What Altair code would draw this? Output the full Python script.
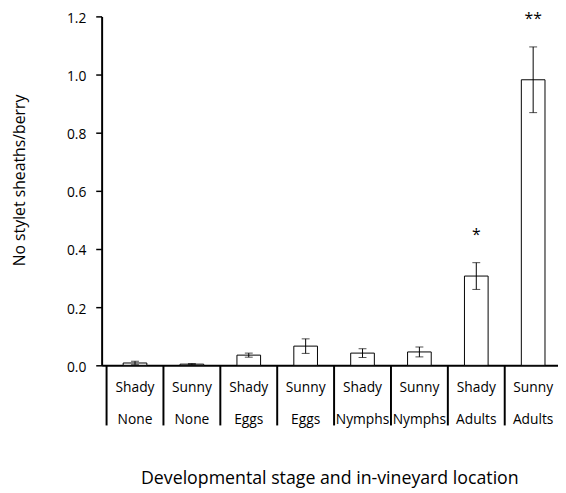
import altair as alt
import pandas as pd

# ---- data ----
locations = ["Shady", "Sunny", "Shady", "Sunny", "Shady", "Sunny", "Shady", "Sunny"]
stages = ["None", "None", "Eggs", "Eggs", "Nymphs", "Nymphs", "Adults", "Adults"]
means = [0.008, 0.004, 0.035, 0.066, 0.042, 0.046, 0.307, 0.982]
errors = [0.006, 0.002, 0.007, 0.025, 0.015, 0.017, 0.046, 0.113]
signif = ["", "", "", "", "", "", "*", "**"]
y_ticks = [0.0, 0.2, 0.4, 0.6, 0.8, 1.0, 1.2]

df = pd.DataFrame({
    "location": locations,
    "stage": stages,
    "mean": means,
    "err": errors,
    "sig": signif,
})
df["idx"] = range(len(df))
df["pos"] = df["idx"] + 0.5
df["lo"] = df["mean"] - df["err"]
df["hi"] = df["mean"] + df["err"]

sep = pd.DataFrame({"b": list(range(len(df)))})

FONT = "Open Sans"
xs = alt.Scale(domain=[0, 7.85], nice=False, zero=False)
ys = alt.Scale(domain=[0, 1.2], nice=False)

base = alt.Chart(df)

bars = base.mark_bar(size=24, fill="white", stroke="black", strokeWidth=1).encode(
    x=alt.X("pos:Q", scale=xs,
            title="Developmental stage and in-vineyard location"),
    y=alt.Y("mean:Q", scale=ys, title="No stylet sheaths/berry",
            axis=alt.Axis(values=y_ticks, format=".1f")),
)

err_rule = base.mark_rule(color="black", strokeWidth=1).encode(
    x=alt.X("pos:Q", scale=xs), y=alt.Y("lo:Q", scale=ys), y2="hi:Q"
)
cap_hi = base.mark_tick(orient="horizontal", size=8, thickness=1, color="black").encode(
    x=alt.X("pos:Q", scale=xs), y=alt.Y("hi:Q", scale=ys)
)
cap_lo = base.mark_tick(orient="horizontal", size=8, thickness=1, color="black").encode(
    x=alt.X("pos:Q", scale=xs), y=alt.Y("lo:Q", scale=ys)
)
stars = base.mark_text(dy=-23, baseline="alphabetic", fontSize=16, font=FONT,
                       color="black").encode(
    x=alt.X("pos:Q", scale=xs), y=alt.Y("hi:Q", scale=ys), text="sig:N"
)
row1 = base.mark_text(baseline="alphabetic", fontSize=14, font=FONT, color="black").encode(
    x=alt.X("pos:Q", scale=xs), y=alt.value(381), text="location:N"
)
row2 = base.mark_text(baseline="alphabetic", fontSize=14, font=FONT, color="black").encode(
    x=alt.X("pos:Q", scale=xs), y=alt.value(414), text="stage:N"
)
seps = alt.Chart(sep).mark_rule(color="black", strokeWidth=2).encode(
    x=alt.X("b:Q", scale=xs), y=alt.value(354), y2=alt.value(415)
)

chart = alt.layer(bars, err_rule, cap_hi, cap_lo, stars, seps, row1, row2).properties(
    width=463,
    height=354,
    autosize=alt.AutoSizeParams(type="none"),
    padding={"left": 95, "top": 5, "right": 0, "bottom": 124},
).configure_view(
    stroke=None
).configure_axis(
    grid=False,
    domainColor="black",
    domainWidth=2,
    labelFont=FONT,
    titleFont=FONT,
    labelColor="black",
    titleColor="black",
    titleFontWeight="normal",
).configure_axisX(
    labels=False,
    ticks=False,
    titleFontSize=18,
    titleX=231,
    titleY=120,
    titleBaseline="alphabetic",
).configure_axisY(
    tickColor="black",
    tickSize=6,
    tickWidth=1.5,
    labelFontSize=14,
    labelPadding=10,
    labelOffset=2,
    titleFontSize=16,
    titleX=-83,
    titleY=166,
    titleAlign="center",
    titleBaseline="middle",
    titleAngle=270,
)

chart.save("out.html", embed_options={"renderer": "svg", "actions": False})
